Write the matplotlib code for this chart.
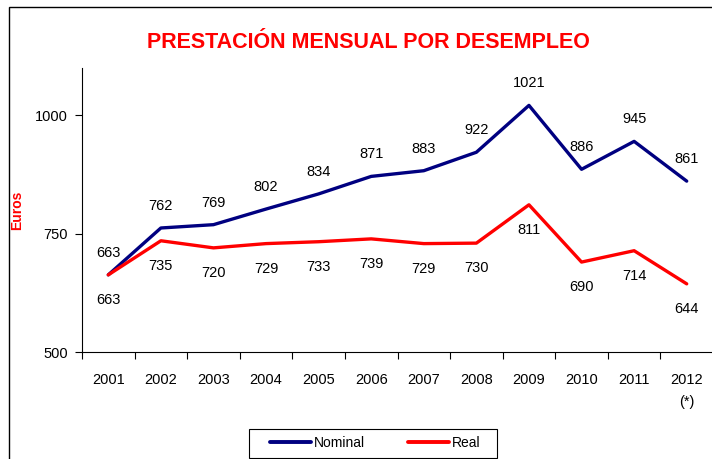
import matplotlib
matplotlib.use("Agg")
import matplotlib.pyplot as plt
from matplotlib.patches import Rectangle

years = ["2001", "2002", "2003", "2004", "2005", "2006", "2007", "2008", "2009", "2010", "2011", "2012\n(*)"]
nominal = [663, 762, 769, 802, 834, 871, 883, 922, 1021, 886, 945, 861]
real = [663, 735, 720, 729, 733, 739, 729, 730, 811, 690, 714, 644]

plt.rcParams['font.family'] = ['Liberation Sans', 'DejaVu Sans']

W, H = 712, 459
fig = plt.figure(figsize=(W / 100, H / 100), dpi=100)
ax = fig.add_axes([82 / W, 1 - 352 / H, 631 / W, (352 - 68) / H])

x = list(range(len(years)))
ax.plot(x, nominal, color='#000080', lw=2.4, label='Nominal', solid_capstyle='round')
ax.plot(x, real, color='#FF0000', lw=2.4, label='Real', solid_capstyle='round')

for xi, v in zip(x, nominal):
    ax.annotate(str(v), (xi, v), xytext=(0, 22), textcoords='offset pixels',
                ha='center', va='center', fontsize=10.5)
for xi, v in zip(x, real):
    ax.annotate(str(v), (xi, v), xytext=(0, -25), textcoords='offset pixels',
                ha='center', va='center', fontsize=10.5)

ax.set_xlim(-0.5, len(years) - 0.5)
ax.set_ylim(500, 1100)
ax.set_yticks([500, 750, 1000])
ax.set_xticks(x)
ax.set_xticklabels(years, linespacing=1.7, va='top')
ax.set_xticks([i + 0.5 for i in range(-1, len(years))], minor=True)
ax.tick_params(axis='x', which='major', length=0, pad=15, labelsize=10.5)
ax.tick_params(axis='x', which='minor', length=5, width=0.8, direction='out')
ax.tick_params(axis='y', length=5, width=0.8, pad=5, labelsize=10.5)

for s in ['top', 'right']:
    ax.spines[s].set_visible(False)
for s in ['left', 'bottom']:
    ax.spines[s].set_linewidth(0.8)

ax.set_ylabel('Euros', color='#FF0000', fontweight='bold', fontsize=10)
ax.yaxis.set_label_coords(-0.092, 0.5)

fig.text(368 / W, 1 - 42 / H, 'PRESTACIÓN MENSUAL POR DESEMPLEO', color='#FF0000',
         fontweight='bold', fontsize=15.5, ha='center', va='center')

# legend box
fig.patches.append(Rectangle((249 / W, 1 - 458 / H), 248 / W, 29 / H, transform=fig.transFigure,
                             fill=True, facecolor='white', edgecolor='black', lw=0.8))
leg = fig.legend(loc='center left', bbox_to_anchor=(270 / W, 1 - 443 / H),
                 ncol=2, frameon=False, fontsize=10,
                 handlelength=2.95, handletextpad=0.2, borderpad=0, borderaxespad=0,
                 columnspacing=3.1)
for h in leg.get_lines():
    h.set_solid_capstyle('round')
    h.set_linewidth(2.8)

fig.patches.append(Rectangle((9 / W, -0.05), 1.1, 1 - 7 / H + 0.05, transform=fig.transFigure,
                             fill=False, edgecolor='black', lw=1))

fig.savefig('out.png', dpi=100)
